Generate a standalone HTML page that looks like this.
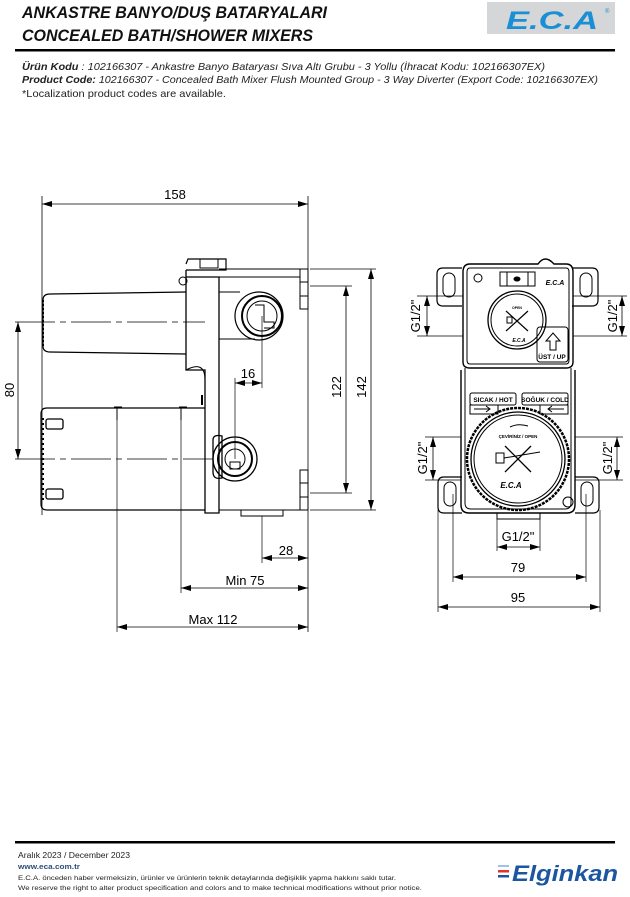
<!DOCTYPE html>
<html><head><meta charset="utf-8"><style>
html,body{margin:0;padding:0;background:#fff;}
body{width:630px;height:897px;overflow:hidden;position:relative;font-family:"Liberation Sans",sans-serif;}
svg{position:absolute;left:0;top:0;}
</style></head><body>
<svg width="630" height="897" viewBox="0 0 630 897" xmlns="http://www.w3.org/2000/svg">
<defs>
<marker id="a" viewBox="0 0 10 6" refX="10" refY="3" markerWidth="10" markerHeight="6" orient="auto-start-reverse" markerUnits="userSpaceOnUse"><path d="M0,0 L10,3 L0,6 z" fill="#000"/></marker>
</defs>
<!-- header -->
<g font-family="Liberation Sans, sans-serif" font-style="italic" font-weight="bold" fill="#111">
<text x="22" y="18" font-size="17" textLength="305" lengthAdjust="spacingAndGlyphs">ANKASTRE BANYO/DUŞ BATARYALARI</text>
<text x="22" y="41" font-size="17" textLength="291" lengthAdjust="spacingAndGlyphs">CONCEALED BATH/SHOWER MIXERS</text>
</g>
<rect x="487" y="2" width="128" height="32" fill="#d4d6d8"/>
<text x="506" y="29" font-size="25" font-style="italic" font-weight="bold" fill="#1a8fd6" textLength="92" lengthAdjust="spacingAndGlyphs">E.C.A</text>
<text x="605" y="13" font-size="6" fill="#1a8fd6">®</text>
<rect x="15" y="49" width="600" height="2.5" fill="#000"/>
<g font-size="10.3" font-style="italic" fill="#222">
<text x="22" y="70" textLength="523" lengthAdjust="spacingAndGlyphs"><tspan font-weight="bold">Ürün Kodu</tspan>     : 102166307 - Ankastre Banyo Bataryası Sıva Altı Grubu - 3 Yollu (İhracat Kodu: 102166307EX)</text>
<text x="22" y="83" textLength="576" lengthAdjust="spacingAndGlyphs"><tspan font-weight="bold">Product Code:</tspan> 102166307 - Concealed Bath Mixer Flush Mounted Group - 3 Way Diverter (Export Code: 102166307EX)</text>
<text x="22" y="97" font-style="normal" textLength="204" lengthAdjust="spacingAndGlyphs">*Localization product codes are available.</text>
</g>

<g stroke="#000" fill="none" stroke-width="1">
<!-- LEFT VIEW -->
<line x1="42" y1="196" x2="42" y2="515" stroke-width="0.8"/>
<line x1="308" y1="196" x2="308" y2="632" stroke-width="0.8"/>
<line x1="42" y1="204" x2="308" y2="204" marker-start="url(#a)" marker-end="url(#a)" stroke-width="0.8"/>
<path d="M186,270 L186,370 L205,370 L205,513 L219,513 L219,277 L186,277" stroke-width="1.3"/>
<path d="M186,264 L188,259 L226,259 L226,270 L186,270" stroke-width="1.2"/>
<rect x="200" y="259" width="18" height="9"/>
<line x1="219" y1="269" x2="308" y2="269"/>
<line x1="219" y1="510" x2="308" y2="510"/>
<line x1="186" y1="277" x2="300" y2="277"/>
<path d="M186,370 Q205,360 205,380"/>
<circle cx="183" cy="281" r="4"/>
<line x1="219" y1="292" x2="240" y2="292"/>
<line x1="219" y1="339" x2="255" y2="339"/>
<rect x="300" y="269" width="8" height="40"/>
<line x1="300" y1="282" x2="308" y2="282"/><line x1="300" y1="296" x2="308" y2="296"/>
<rect x="300" y="470" width="8" height="40"/>
<line x1="300" y1="483" x2="308" y2="483"/><line x1="300" y1="497" x2="308" y2="497"/>
<path d="M186,292 L50,294 Q43,294 43,300 L43,346 Q43,352 50,352 L186,354" stroke-width="1.2"/>
<line x1="43" y1="300" x2="43" y2="346" stroke-width="2" stroke-dasharray="2,2"/>
<circle cx="259" cy="316" r="24" stroke-width="1.2"/>
<circle cx="262" cy="316" r="20" stroke-width="2"/>
<circle cx="262" cy="316" r="15"/>
<path d="M255,305 L264,305 L264,322 L274,322 L274,328 L264,328"/>
<path d="M205,408 L47,408 Q41,408 41,414 L41,504 Q41,510 47,510 L205,510" stroke-width="1.2"/>
<rect x="46" y="419" width="17" height="10" rx="2" stroke-width="1.3"/>
<rect x="46" y="489" width="17" height="10" rx="2" stroke-width="1.3"/>
<line x1="43" y1="418" x2="43" y2="500" stroke-width="2" stroke-dasharray="2,3"/>
<path d="M117,408 L117,420 M114,407 L122,407"/>
<path d="M181,408 L181,420 M179,407 L187,407"/>
<line x1="202" y1="395" x2="202" y2="405" stroke-width="2"/>
<path d="M213,440 Q213,434 222,436 L222,478 Q213,480 213,472 z" stroke-width="1.3"/>
<circle cx="235" cy="459" r="22" stroke-width="1.3"/>
<circle cx="235" cy="459" r="17" stroke-width="2"/>
<circle cx="235" cy="459" r="10"/>
<rect x="230" y="462" width="10" height="7"/>
<rect x="241" y="510" width="42" height="6"/>
<line x1="15" y1="322" x2="205" y2="322" stroke-width="0.8" stroke-dasharray="40,5,6,5"/>
<line x1="15" y1="459" x2="213" y2="459" stroke-width="0.8" stroke-dasharray="40,5,6,5"/>
<line x1="18" y1="322" x2="18" y2="459" marker-start="url(#a)" marker-end="url(#a)" stroke-width="0.8"/>
<line x1="235" y1="378" x2="235" y2="459" stroke-width="0.7"/>
<line x1="262" y1="316" x2="262" y2="388" stroke-width="0.7"/>
<line x1="235" y1="383" x2="262" y2="383" marker-start="url(#a)" marker-end="url(#a)" stroke-width="0.8"/>
<line x1="310" y1="286" x2="352" y2="286" stroke-width="0.7"/>
<line x1="310" y1="493" x2="352" y2="493" stroke-width="0.7"/>
<line x1="310" y1="269" x2="376" y2="269" stroke-width="0.7"/>
<line x1="310" y1="510" x2="376" y2="510" stroke-width="0.7"/>
<line x1="346" y1="286" x2="346" y2="493" marker-start="url(#a)" marker-end="url(#a)" stroke-width="0.8"/>
<line x1="371" y1="269" x2="371" y2="510" marker-start="url(#a)" marker-end="url(#a)" stroke-width="0.8"/>
<line x1="262" y1="516" x2="262" y2="563" stroke-width="0.7"/>
<line x1="262" y1="558" x2="308" y2="558" marker-start="url(#a)" marker-end="url(#a)" stroke-width="0.8"/>
<line x1="181" y1="408" x2="181" y2="593" stroke-width="0.7"/>
<line x1="181" y1="588" x2="308" y2="588" marker-start="url(#a)" marker-end="url(#a)" stroke-width="0.8"/>
<line x1="117" y1="408" x2="117" y2="632" stroke-width="0.7"/>
<line x1="117" y1="627" x2="308" y2="627" marker-start="url(#a)" marker-end="url(#a)" stroke-width="0.8"/>

<!-- RIGHT VIEW -->
<path d="M462,268 L443,268 Q437,268 437,274 L437,300 Q437,306 443,306 L462,306" stroke-width="1.2"/>
<rect x="443" y="273" width="12" height="24" rx="6"/>
<path d="M572,268 L592,268 Q598,268 598,274 L598,300 Q598,306 592,306 L572,306" stroke-width="1.2"/>
<rect x="580" y="273" width="12" height="24" rx="6"/>
<path d="M462,477 L444,477 Q438,477 438,483 L438,507 Q438,513 444,513 L462,513" stroke-width="1.2"/>
<rect x="444" y="482" width="12" height="24" rx="6"/>
<path d="M575,477 L593,477 Q599,477 599,483 L599,507 Q599,513 593,513 L575,513" stroke-width="1.2"/>
<rect x="581" y="482" width="12" height="24" rx="6"/>
<path d="M470,264 L538,264 Q545,254 554,264 L566,264 Q573,264 573,272 L573,362 Q573,368 566,368 L470,368 Q463,368 463,362 L463,272 Q463,264 470,264 z" stroke-width="1.4"/>
<path d="M470,268 L566,268 Q569,268 569,272 L569,360 Q569,364 566,364 L470,364 Q467,364 467,360 L467,272 Q467,268 470,268 z"/>
<path d="M461,370 L461,505 Q461,513 469,513 L567,513 Q575,513 575,505 L575,370" stroke-width="1.4"/>
<path d="M465,368 L465,503 Q465,509 471,509 L565,509 Q571,509 571,503 L571,368"/>
<rect x="497" y="513" width="43" height="6"/>
<rect x="500" y="272" width="35" height="14"/>
<line x1="507" y1="272" x2="507" y2="286"/><line x1="528" y1="272" x2="528" y2="286"/>
<ellipse cx="517" cy="279" rx="3" ry="2" fill="#000"/>
<circle cx="478" cy="278" r="4"/>
<circle cx="517" cy="320" r="29" stroke-width="1.3"/>
<circle cx="517" cy="320" r="26"/>
<path d="M506,311 L528,331 M528,311 L506,331" stroke-width="1.2"/>
<rect x="507" y="317" width="5" height="6"/>
<rect x="537" y="327" width="31" height="35" rx="3"/>
<path d="M550,350 L550,341 L546,341 L553,333 L560,341 L556,341 L556,350 z"/>
<rect x="470" y="393" width="46" height="12" rx="2"/>
<rect x="522" y="393" width="46" height="12" rx="2"/>
<rect x="470" y="405" width="28" height="9"/>
<path d="M474,409 L490,409 M486,406 L490,409 L486,412"/>
<rect x="540" y="405" width="28" height="9"/>
<path d="M548,409 L564,409 M552,406 L548,409 L552,412"/>
<circle cx="518" cy="459" r="51" stroke-width="2.5" stroke-dasharray="3,1"/>
<circle cx="518" cy="459" r="47" stroke-width="1.3"/>
<circle cx="518" cy="459" r="44"/>
<path d="M505,446 L531,472 M531,446 L505,472" stroke-width="1.3"/>
<rect x="496" y="453" width="8" height="10"/>
<path d="M504,458 L540,452"/>
<path d="M510,427 Q518,423 528,426" />
<circle cx="568" cy="502" r="5"/>
<line x1="417" y1="296" x2="463" y2="296" stroke-width="0.7"/>
<line x1="417" y1="336" x2="463" y2="336" stroke-width="0.7"/>
<line x1="427" y1="296" x2="427" y2="336" marker-start="url(#a)" marker-end="url(#a)" stroke-width="0.8"/>
<line x1="573" y1="296" x2="627" y2="296" stroke-width="0.7"/>
<line x1="573" y1="336" x2="627" y2="336" stroke-width="0.7"/>
<line x1="622" y1="296" x2="622" y2="336" marker-start="url(#a)" marker-end="url(#a)" stroke-width="0.8"/>
<line x1="425" y1="437" x2="461" y2="437" stroke-width="0.7"/>
<line x1="425" y1="480" x2="461" y2="480" stroke-width="0.7"/>
<line x1="433" y1="437" x2="433" y2="480" marker-start="url(#a)" marker-end="url(#a)" stroke-width="0.8"/>
<line x1="575" y1="437" x2="623" y2="437" stroke-width="0.7"/>
<line x1="575" y1="480" x2="623" y2="480" stroke-width="0.7"/>
<line x1="617" y1="437" x2="617" y2="480" marker-start="url(#a)" marker-end="url(#a)" stroke-width="0.8"/>
<line x1="497" y1="519" x2="497" y2="551" stroke-width="0.7"/>
<line x1="540" y1="519" x2="540" y2="551" stroke-width="0.7"/>
<line x1="497" y1="547" x2="540" y2="547" marker-start="url(#a)" marker-end="url(#a)" stroke-width="0.8"/>
<line x1="453" y1="494" x2="453" y2="582" stroke-width="0.7"/>
<line x1="586" y1="494" x2="586" y2="582" stroke-width="0.7"/>
<line x1="453" y1="577" x2="586" y2="577" marker-start="url(#a)" marker-end="url(#a)" stroke-width="0.8"/>
<line x1="438" y1="510" x2="438" y2="612" stroke-width="0.7"/>
<line x1="600" y1="510" x2="600" y2="612" stroke-width="0.7"/>
<line x1="438" y1="607" x2="600" y2="607" marker-start="url(#a)" marker-end="url(#a)" stroke-width="0.8"/>
</g>

<g font-family="Liberation Sans, sans-serif" font-size="13" fill="#000" text-anchor="middle">
<text x="175" y="199">158</text>
<text x="248" y="378">16</text>
<text x="286" y="555">28</text>
<text x="245" y="585">Min 75</text>
<text x="213" y="624">Max 112</text>
<text transform="translate(14,390) rotate(-90)">80</text>
<text transform="translate(341,387) rotate(-90)">122</text>
<text transform="translate(366,387) rotate(-90)">142</text>
<text transform="translate(420,316) rotate(-90)">G1/2"</text>
<text transform="translate(617,316) rotate(-90)">G1/2"</text>
<text transform="translate(427,458) rotate(-90)">G1/2"</text>
<text transform="translate(612,458) rotate(-90)">G1/2"</text>
<text x="518" y="541">G1/2"</text>
<text x="518" y="572">79</text>
<text x="518" y="602">95</text>
</g>
<g font-family="Liberation Sans, sans-serif" font-weight="bold" fill="#000" text-anchor="middle">
<text x="493" y="402" font-size="6.5">SICAK / HOT</text>
<text x="545" y="402" font-size="6.5">SOĞUK / COLD</text>
<text x="552" y="359" font-size="6.5">ÜST / UP</text>
<text x="518" y="438" font-size="4.5">ÇEVİRİNİZ / OPEN</text>
<text x="517" y="309" font-size="3.5">OPEN</text>
<text x="511" y="488" font-size="8" font-style="italic">E.C.A</text>
<text x="519" y="342" font-size="5" font-style="italic">E.C.A</text>
<text x="555" y="285" font-size="7" font-style="italic">E.C.A</text>
</g>

<rect x="15" y="841" width="600" height="2.5" fill="#000"/>
<g font-family="Liberation Sans, sans-serif" fill="#222">
<text x="18" y="858" font-size="7.8" textLength="112" lengthAdjust="spacingAndGlyphs">Aralık 2023 / December 2023</text>
<text x="18" y="869" font-size="7.3" font-weight="bold" fill="#2a4f7a" textLength="62" lengthAdjust="spacingAndGlyphs">www.eca.com.tr</text>
<text x="18" y="880" font-size="6.2" textLength="378" lengthAdjust="spacingAndGlyphs">E.C.A. önceden haber vermeksizin, ürünler ve ürünlerin teknik detaylarında değişiklik yapma hakkını saklı tutar.</text>
<text x="18" y="890" font-size="6.2" textLength="404" lengthAdjust="spacingAndGlyphs">We reserve the right to alter product specification and colors and to make technical modifications without prior notice.</text>
</g>
<rect x="498" y="865" width="11" height="2" fill="#9cc3e6"/>
<rect x="498" y="870" width="11" height="2.5" fill="#e2342d"/>
<rect x="498" y="875" width="11" height="2.5" fill="#1c56a0"/>
<text x="512" y="881" font-family="Liberation Sans, sans-serif" font-size="22" font-weight="bold" font-style="italic" fill="#1c56a0" textLength="106" lengthAdjust="spacingAndGlyphs">Elginkan</text>
</svg>
</body></html>
